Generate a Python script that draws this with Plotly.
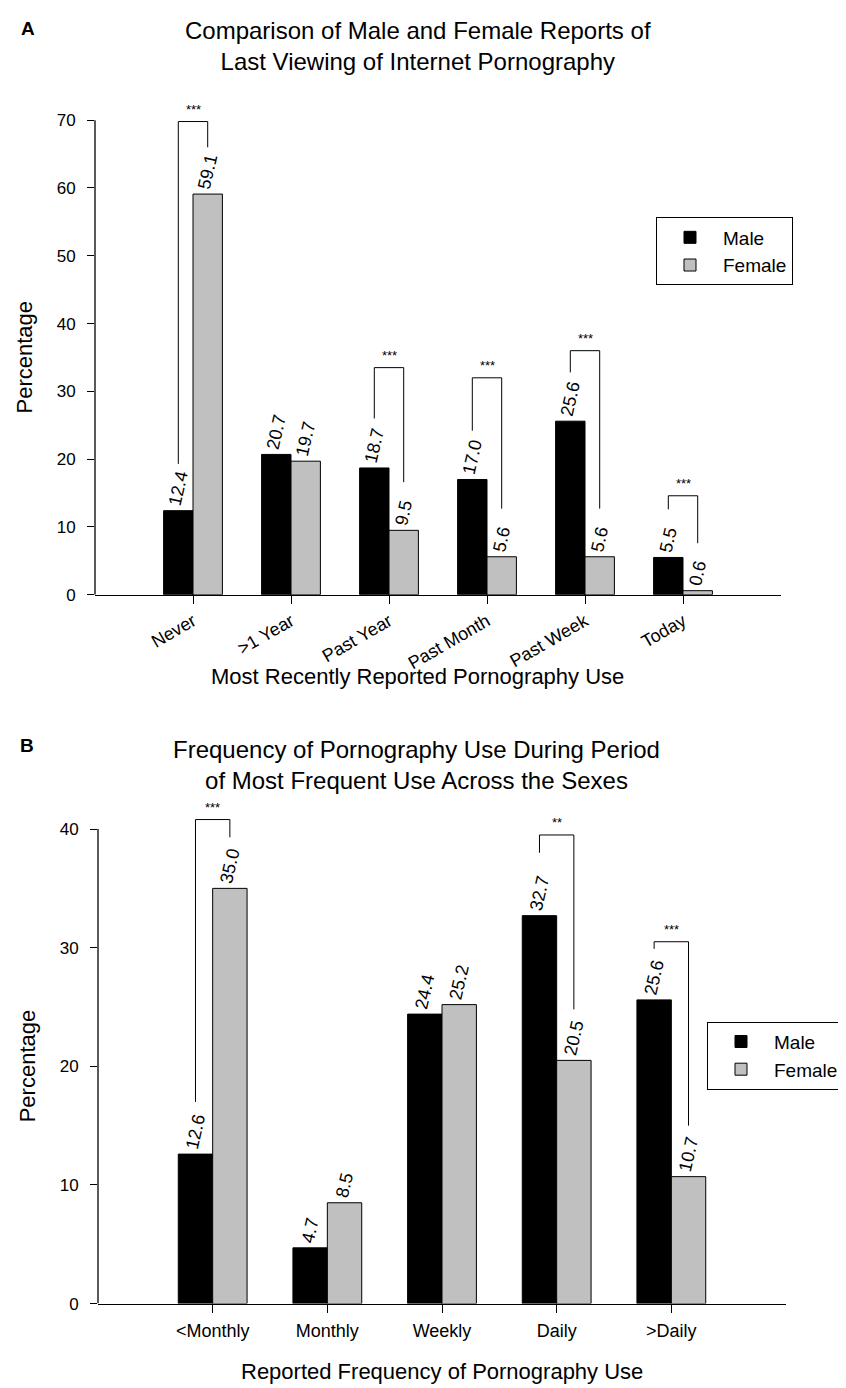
import plotly.graph_objects as go

W, H = 846, 1388
FONT = "Liberation Sans, Arial, sans-serif"

# ---------------- data: panel A ----------------
cats_a = ["Never", ">1 Year", "Past Year", "Past Month", "Past Week", "Today"]
male_a = [12.4, 20.7, 18.7, 17.0, 25.6, 5.5]
female_a = [59.1, 19.7, 9.5, 5.6, 5.6, 0.6]
yticks_a = [0, 10, 20, 30, 40, 50, 60, 70]

sig_cats_a = ["Never", "Past Year", "Past Month", "Past Week", "Today"]
sig_stars_a = ["***", "***", "***", "***", "***"]
sig_top_a = [69.8, 33.5, 32.0, 36.0, 14.6]
sig_left_a = [19.3, 26.0, 24.2, 32.8, 12.6]
sig_right_a = [66.0, 16.6, 12.7, 12.7, 7.6]

# ---------------- data: panel B ----------------
cats_b = ["<Monthly", "Monthly", "Weekly", "Daily", ">Daily"]
male_b = [12.6, 4.7, 24.4, 32.7, 25.6]
female_b = [35.0, 8.5, 25.2, 20.5, 10.7]
yticks_b = [0, 10, 20, 30, 40]

sig_cats_b = ["<Monthly", "Daily", ">Daily"]
sig_stars_b = ["***", "**", "***"]
sig_top_b = [40.8, 39.5, 30.5]
sig_left_b = [17.0, 38.0, 29.9]
sig_right_b = [39.3, 24.8, 15.0]

MALE_C = "black"
FEMALE_C = "#c0c0c0"


def px_x(p):
    return p / W


def px_y(p):
    return 1 - p / H


fig = go.Figure()

bar_common = dict(
    marker_line_color="black",
    marker_line_width=1,
    texttemplate="%{y:.1f}",
    textposition="outside",
    textangle=-77,
    textfont=dict(family=FONT, size=18, color="black"),
    constraintext="none",
    cliponaxis=False,
    hoverinfo="skip",
)

fig.add_trace(go.Bar(x=cats_a, y=male_a, name="Male", marker_color=MALE_C,
                     xaxis="x", yaxis="y", legend="legend", **bar_common))
fig.add_trace(go.Bar(x=cats_a, y=female_a, name="Female", marker_color=FEMALE_C,
                     xaxis="x", yaxis="y", legend="legend", **bar_common))
fig.add_trace(go.Bar(x=cats_b, y=male_b, name="Male", marker_color=MALE_C,
                     xaxis="x2", yaxis="y2", legend="legend2", **bar_common))
fig.add_trace(go.Bar(x=cats_b, y=female_b, name="Female", marker_color=FEMALE_C,
                     xaxis="x2", yaxis="y2", legend="legend2", **bar_common))

shapes = []
annotations = []
OFF = 0.15  # half of group width -> bar centres


def add_brackets(cats, scats, stars, tops, lefts, rights, xr, yr):
    for c, s, t, l, r in zip(scats, stars, tops, lefts, rights):
        i = cats.index(c)
        x0, x1 = i - OFF, i + OFF
        line = dict(color="black", width=1)
        shapes.append(dict(type="line", xref=xr, yref=yr, x0=x0, x1=x0, y0=l, y1=t, line=line))
        shapes.append(dict(type="line", xref=xr, yref=yr, x0=x0, x1=x1, y0=t, y1=t, line=line))
        shapes.append(dict(type="line", xref=xr, yref=yr, x0=x1, x1=x1, y0=t, y1=r, line=line))
        annotations.append(dict(xref=xr, yref=yr, x=i, y=t, text=s, showarrow=False,
                                yanchor="bottom", yshift=3,
                                font=dict(family=FONT, size=13, color="black")))


add_brackets(cats_a, sig_cats_a, sig_stars_a, sig_top_a, sig_left_a, sig_right_a, "x", "y")
add_brackets(cats_b, sig_cats_b, sig_stars_b, sig_top_b, sig_left_b, sig_right_b, "x2", "y2")

# y axis lines (ending at the top tick)
shapes.append(dict(type="line", xref="x domain", yref="y", x0=0, x1=0, y0=0, y1=max(yticks_a),
                   line=dict(color="black", width=1.3)))
shapes.append(dict(type="line", xref="x2 domain", yref="y2", x0=0, x1=0, y0=0, y1=max(yticks_b),
                   line=dict(color="black", width=1.3)))

# titles & labels
annotations += [
    dict(xref="paper", yref="paper", x=px_x(410), y=px_y(38), xanchor="center", yanchor="middle",
         text="Comparison of Male and Female Reports of<br>Last Viewing of Internet Pornography",
         showarrow=False, font=dict(family=FONT, size=24, color="black")),
    dict(xref="paper", yref="paper", x=px_x(408), y=px_y(762), xanchor="center", yanchor="middle",
         text="Frequency of Pornography Use During Period<br>of Most Frequent Use Across the Sexes",
         showarrow=False, font=dict(family=FONT, size=24, color="black")),
    dict(xref="paper", yref="paper", x=px_x(20), y=px_y(21), xanchor="center", yanchor="middle",
         text="<b>A</b>", showarrow=False, font=dict(family=FONT, size=19, color="black")),
    dict(xref="paper", yref="paper", x=px_x(19), y=px_y(743), xanchor="center", yanchor="middle",
         text="<b>B</b>", showarrow=False, font=dict(family=FONT, size=19, color="black")),
    dict(xref="paper", yref="paper", x=px_x(16), y=px_y(352), xanchor="center", yanchor="middle",
         text="Percentage", textangle=-90, showarrow=False,
         font=dict(family=FONT, size=22, color="black")),
    dict(xref="paper", yref="paper", x=px_x(19), y=px_y(1066), xanchor="center", yanchor="middle",
         text="Percentage", textangle=-90, showarrow=False,
         font=dict(family=FONT, size=22, color="black")),
    dict(xref="x domain", yref="paper", x=0.47, y=px_y(673), xanchor="center", yanchor="middle",
         text="Most Recently Reported Pornography Use", showarrow=False,
         font=dict(family=FONT, size=22, color="black")),
    dict(xref="x2 domain", yref="paper", x=0.5, y=px_y(1373), xanchor="center", yanchor="middle",
         text="Reported Frequency of Pornography Use", showarrow=False,
         font=dict(family=FONT, size=22, color="black")),
]

# axis geometry
ya0, ya70 = 591, 113
ppu_a = (ya0 - ya70) / 70.0
ya_top = ya70 - 2 * ppu_a  # range top 72
yb0, yb40 = 1305, 827
ppu_b = (yb0 - yb40) / 40.0
yb_top = yb40 - 2 * ppu_b  # range top 42

xaxis_common = dict(
    type="category", showline=True, linecolor="black", linewidth=1.3,
    ticks="outside", ticklen=8, tickcolor="black", tickwidth=1.3,
    showgrid=False, zeroline=False,
    tickfont=dict(family=FONT, size=18, color="black"),
)
yaxis_common = dict(
    showline=False, ticks="outside", ticklen=7, tickcolor="black", tickwidth=1.3,
    showgrid=False, zeroline=False, ticklabelstandoff=8,
    tickfont=dict(family=FONT, size=17, color="black"),
)

legend_common = dict(
    xanchor="left", yanchor="top",
    bordercolor="black", borderwidth=1, bgcolor="white",
    font=dict(family=FONT, size=19, color="black"), itemwidth=56,
)

fig.update_layout(
    width=W, height=H,
    margin=dict(l=0, r=0, t=0, b=0),
    paper_bgcolor="white", plot_bgcolor="white",
    barmode="group", bargap=0.4, bargroupgap=0,
    font=dict(family=FONT, color="black"),
    xaxis=dict(domain=[px_x(87), px_x(773)], range=[-1, 6], anchor="y",
               tickangle=-30, **xaxis_common),
    yaxis=dict(domain=[px_y(ya0), px_y(ya_top)], range=[0, 72], anchor="x",
               tickvals=yticks_a, **yaxis_common),
    xaxis2=dict(domain=[px_x(90), px_x(778)], range=[-1, 5], anchor="y2",
                tickangle=0, ticklabelstandoff=3, **xaxis_common),
    yaxis2=dict(domain=[px_y(yb0), px_y(yb_top)], range=[0, 42], anchor="x2",
                tickvals=yticks_b, **yaxis_common),
    legend=dict(x=px_x(648), y=px_y(211), **legend_common),
    legend2=dict(x=px_x(699), y=px_y(1021), **legend_common),
    shapes=shapes,
    annotations=annotations,
    showlegend=True,
)

fig.write_html("out.html")
